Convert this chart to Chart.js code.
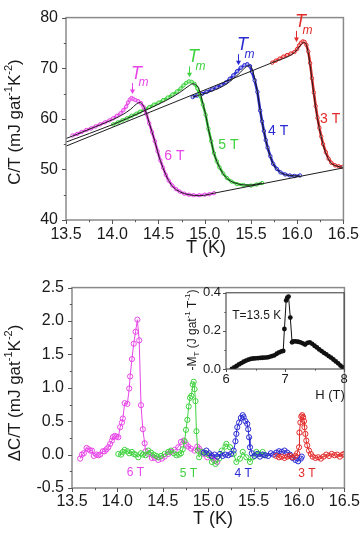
<!DOCTYPE html>
<html><head><meta charset="utf-8">
<script src="https://cdn.jsdelivr.net/npm/chart.js@4"></script>
<style>
html,body{margin:0;padding:0;background:#fff;}
#wrap{position:relative;width:364px;height:540px;overflow:hidden;background:#fff;}
canvas{position:absolute;}
</style></head><body>
<div id="wrap">
<canvas id="top" width="364" height="270" style="left:0;top:0"></canvas>
<canvas id="bot" width="364" height="270" style="left:0;top:270px"></canvas>
<canvas id="ins" width="175" height="125" style="left:180px;top:280px"></canvas>
</div>
<script>
// ---------- data: upper panel, C/T (mJ gat^-1 K^-2) vs T (K) ----------
const cT6 = [[13.57,56.7],[13.62,57.0],[13.67,57.4],[13.72,57.8],[13.77,58.1],[13.82,58.5],[13.87,58.9],[13.92,59.3],[13.97,59.7],[14.01,60.1],[14.05,60.6],[14.09,61.1],[14.12,61.7],[14.15,62.4],[14.17,63.2],[14.19,63.8],[14.21,64.1],[14.23,63.9],[14.25,63.7],[14.28,63.5],[14.31,63.1],[14.34,62.3],[14.37,60.9],[14.40,59.1],[14.43,57.4],[14.46,55.6],[14.49,53.6],[14.52,51.8],[14.55,50.3],[14.58,48.9],[14.61,47.8],[14.65,46.8],[14.69,46.1],[14.73,45.6],[14.78,45.2],[14.83,45.0],[14.88,44.9],[14.94,44.9],[15.00,45.0],[15.05,45.1],[15.10,45.3]];
const cT5 = [[14.01,58.9],[14.06,59.3],[14.11,59.7],[14.16,60.1],[14.21,60.6],[14.26,61.0],[14.30,61.4],[14.35,61.8],[14.40,62.3],[14.45,62.8],[14.50,63.2],[14.55,63.7],[14.60,64.2],[14.65,64.8],[14.70,65.4],[14.74,66.0],[14.77,66.6],[14.80,67.1],[14.83,67.4],[14.86,67.3],[14.89,66.9],[14.92,66.0],[14.95,64.6],[14.98,62.8],[15.01,60.8],[15.04,58.0],[15.07,55.6],[15.10,53.2],[15.13,51.6],[15.16,50.4],[15.20,49.2],[15.24,48.3],[15.29,47.6],[15.35,47.1],[15.42,46.9],[15.50,46.8],[15.56,47.0],[15.62,47.3]];
const cT4 = [[14.87,64.3],[14.92,64.6],[14.97,64.9],[15.02,65.3],[15.08,65.8],[15.13,66.2],[15.18,66.7],[15.23,67.2],[15.27,67.9],[15.31,68.6],[15.35,69.4],[15.39,70.1],[15.43,70.6],[15.46,70.8],[15.49,70.4],[15.51,69.3],[15.54,67.6],[15.57,65.3],[15.60,61.6],[15.62,59.5],[15.64,57.6],[15.66,55.8],[15.68,54.3],[15.71,52.6],[15.74,51.1],[15.78,50.1],[15.82,49.4],[15.87,49.0],[15.92,48.8],[15.97,48.7],[16.03,48.8]];
const cT3 = [[15.73,71.1],[15.77,71.5],[15.81,71.9],[15.85,72.3],[15.89,72.6],[15.93,72.9],[15.97,73.2],[16.00,73.8],[16.02,74.5],[16.04,75.0],[16.06,75.3],[16.08,75.2],[16.10,74.6],[16.12,73.3],[16.14,71.0],[16.16,68.0],[16.18,65.2],[16.20,62.5],[16.22,60.2],[16.24,58.2],[16.26,56.5],[16.28,55.0],[16.31,53.4],[16.34,52.1],[16.37,51.3],[16.41,50.8],[16.45,50.6],[16.49,50.5]];
// black model curves
const fit6 = [[13.5,56.1],[13.6,56.8],[13.8,58.3],[14.0,59.8],[14.1,60.7],[14.2,61.9],[14.26,62.9],[14.30,63.2],[14.33,62.8],[14.36,61.6],[14.40,59.2],[14.46,55.6],[14.51,52.3],[14.56,49.8],[14.61,47.8],[14.66,46.5],[14.73,45.6],[14.83,45.0],[14.95,44.8],[15.1,45.3]];
const fit5 = [[13.5,55.4],[14.01,58.9],[14.3,61.2],[14.58,63.6],[14.73,65.2],[14.82,66.4],[14.87,66.9],[14.90,66.8],[14.94,65.8],[14.98,63.0],[15.01,60.8],[15.04,58.0],[15.07,55.6],[15.10,53.2],[15.16,50.4],[15.23,48.4],[15.33,47.3],[15.48,46.9],[15.62,47.3]];
const fit4 = [[14.87,64.3],[15.08,65.5],[15.23,66.8],[15.37,68.9],[15.45,70.3],[15.49,70.5],[15.52,69.4],[15.57,65.3],[15.60,61.6],[15.64,57.6],[15.68,54.3],[15.74,51.1],[15.82,49.4],[15.92,48.8],[16.03,48.7]];
const fit3 = [[15.73,71.1],[15.97,73.1],[16.03,74.4],[16.07,75.1],[16.10,74.6],[16.13,71.8],[16.17,66.2],[16.21,61.0],[16.25,57.2],[16.30,53.7],[16.36,51.4],[16.44,50.6],[16.5,50.4]];
const lowLine = [[13.5,54.6],[15.73,71.1]];
const baseLine = [[15.1,45.3],[16.5,50.3]];

// ---------- data: lower panel, dC/T vs T ----------
const dT6 = [13.59,13.61,13.63,13.66,13.68,13.70,13.72,13.74,13.77,13.79,13.81,13.84,13.86,13.88,13.90,13.92,13.94,13.95,13.97,13.99,14.01,14.03,14.05,14.06,14.08,14.11,14.13,14.14,14.16,14.18,14.20,14.22,14.24,14.26,14.28,14.30,14.31,14.34,14.38,14.41,14.45,14.49,14.52,14.56,14.59,14.63,14.67,14.70,14.73,14.76,14.78,14.81,14.85,14.88,14.90,14.92,14.95,14.99,15.03,15.05,15.08,15.10];
const dV6 = [-0.06,0.00,0.02,0.10,0.08,0.06,0.06,-0.02,0.00,-0.01,0.00,0.05,0.05,0.08,0.11,0.16,0.21,0.26,0.28,0.27,0.26,0.41,0.48,0.54,0.77,0.76,0.99,1.17,1.43,1.66,1.84,2.02,1.71,0.74,0.38,0.17,0.05,0.01,-0.05,-0.05,-0.08,-0.06,-0.03,0.01,0.04,0.07,0.11,0.19,0.21,0.15,0.12,0.09,0.06,0.12,0.09,0.05,0.01,-0.04,-0.01,-0.05,-0.09,-0.11];
const dT5 = [14.01,14.04,14.06,14.08,14.11,14.13,14.16,14.18,14.20,14.23,14.26,14.28,14.31,14.34,14.37,14.40,14.43,14.45,14.48,14.52,14.56,14.59,14.62,14.65,14.68,14.70,14.72,14.74,14.755,14.77,14.785,14.80,14.815,14.83,14.84,14.85,14.86,14.87,14.885,14.90,14.935,14.97,15.01,15.04,15.08,15.12,15.15,15.19,15.20,15.24,15.28,15.31,15.35,15.38,15.42,15.46,15.49,15.53,15.56,15.60,15.62];
const dV5 = [0.01,0.00,0.04,0.07,0.05,0.02,0.04,0.01,0.00,-0.04,0.02,0.00,-0.01,0.06,0.03,0.00,-0.02,-0.04,-0.02,0.01,0.04,0.06,0.02,-0.01,0.00,0.02,0.08,0.20,0.37,0.52,0.72,0.85,0.88,1.05,1.09,0.98,0.80,0.35,0.06,-0.04,0.04,0.02,-0.01,-0.11,-0.14,-0.06,0.06,0.12,0.16,0.11,0.01,-0.11,-0.06,0.04,-0.04,-0.11,-0.04,0.04,0.01,0.04,-0.01];
const dT4 = [14.95,14.98,15.01,15.04,15.07,15.10,15.13,15.16,15.19,15.22,15.25,15.28,15.30,15.31,15.32,15.34,15.36,15.38,15.39,15.41,15.43,15.44,15.45,15.46,15.48,15.51,15.54,15.57,15.60,15.63,15.66,15.69,15.72,15.75,15.78,15.81,15.84,15.87,15.90,15.93,15.96,15.99,16.02,16.03];
const dV4 = [0.03,0.06,0.02,-0.02,0.00,-0.03,0.01,-0.02,0.00,-0.01,0.01,0.06,0.20,0.31,0.41,0.48,0.55,0.59,0.56,0.50,0.46,0.38,0.26,0.11,0.02,-0.02,0.01,-0.03,0.00,-0.01,-0.02,0.02,0.00,0.03,0.05,0.04,0.06,0.03,0.00,-0.05,-0.08,-0.10,-0.06,-0.03];
const dT3 = [15.75,15.78,15.81,15.84,15.87,15.90,15.93,15.96,15.98,16.00,16.005,16.015,16.025,16.035,16.045,16.055,16.06,16.07,16.08,16.09,16.11,16.13,16.15,16.18,16.21,16.24,16.27,16.30,16.33,16.36,16.39,16.42,16.45,16.48,16.50];
const dV3 = [-0.02,-0.04,-0.03,-0.05,-0.03,-0.02,-0.04,-0.02,0.02,0.11,0.33,0.48,0.57,0.59,0.56,0.50,0.41,0.31,0.21,0.14,0.06,0.01,-0.03,-0.05,-0.04,-0.06,-0.03,0.00,-0.02,0.01,-0.01,0.00,-0.03,0.00,0.01];

// ---------- data: inset, -M_T vs H ----------
const insH = [6.10,6.14,6.18,6.22,6.26,6.30,6.34,6.38,6.42,6.46,6.50,6.54,6.58,6.62,6.66,6.70,6.74,6.78,6.82,6.86,6.90,6.94,6.97,6.99,7.02,7.04,7.06,7.09,7.12,7.14,7.18,7.22,7.26,7.30,7.34,7.38,7.42,7.46,7.50,7.54,7.58,7.62,7.66,7.70,7.74,7.78,7.82,7.86,7.90,7.94,7.98];
const insM = [0.000,0.008,0.016,0.024,0.031,0.038,0.044,0.049,0.053,0.055,0.056,0.057,0.058,0.059,0.060,0.061,0.064,0.068,0.072,0.080,0.087,0.092,0.095,0.21,0.36,0.375,0.38,0.27,0.14,0.145,0.145,0.143,0.14,0.135,0.128,0.137,0.14,0.132,0.122,0.113,0.103,0.094,0.085,0.077,0.068,0.060,0.050,0.040,0.030,0.018,0.008];

// ---------- ticks ----------
const tTicks = [13.5,14.0,14.5,15.0,15.5,16.0,16.5];
const cTicks = [40,50,60,70,80];
const dTicks = [-0.5,0.0,0.5,1.0,1.5,2.0,2.5];
const hTicks = [6,7,8];
const mTicks = [0.0,0.2,0.4];
const fieldLabels = ['6 T','5 T','4 T','3 T'];

// ---------- styling ----------
const COL = {m:'#e845e8', g:'#3ed23e', b:'#2a2ad2', r:'#e42a2a'};
const FONT = "'Liberation Sans', Arial, Helvetica, sans-serif";
const xy = a => a.map(p => ({x:p[0], y:p[1]}));
const zip = (xs, ys) => xs.map((x,i) => ({x, y:ys[i]}));

function rich(ctx, parts, x, y, rot, align) {
  ctx.save(); ctx.translate(x, y); if (rot) ctx.rotate(rot);
  let w = 0;
  parts.forEach(p => { ctx.font = (p.i?'italic ':'') + p.s + 'px ' + FONT; p.w = ctx.measureText(p.t).width; w += p.w; });
  let cx = align === 'left' ? 0 : -w/2;
  ctx.textBaseline = 'middle'; ctx.textAlign = 'left';
  parts.forEach(p => { ctx.font = (p.i?'italic ':'') + p.s + 'px ' + FONT; ctx.fillStyle = p.c || '#1a1a1a'; ctx.fillText(p.t, cx, p.dy || 0); cx += p.w; });
  ctx.restore();
}

function decoPlugin(o) {
  return {
    id: 'deco',
    beforeDatasetsDraw(chart) {
      if (o.fill) { const a = chart.chartArea, c = chart.ctx; c.save(); c.fillStyle = '#fff'; c.fillRect(a.left, a.top, a.right-a.left, a.bottom-a.top); c.restore(); }
    },
    afterDatasetsDraw(chart) {
      const {ctx, chartArea:a, scales:{x, y}} = chart;
      ctx.save();
      ctx.strokeStyle = o.frame; ctx.lineWidth = o.fw;
      ctx.strokeRect(a.left, a.top, a.right-a.left, a.bottom-a.top);
      ctx.strokeStyle = '#555'; ctx.lineWidth = 1;
      ctx.beginPath();
      for (let v = x.min; v <= x.max + 1e-9; v += o.xMinor) {
        const p = Math.round(x.getPixelForValue(v)) + 0.5;
        const major = Math.abs(Math.round(v/o.xMajor)*o.xMajor - v) < 1e-6;
        ctx.moveTo(p, a.bottom); ctx.lineTo(p, a.bottom + (major ? o.tl : o.tl*0.55));
      }
      for (let v = y.min; v <= y.max + 1e-9; v += o.yMinor) {
        const p = Math.round(y.getPixelForValue(v)) + 0.5;
        const major = Math.abs(Math.round(v/o.yMajor)*o.yMajor - v) < 1e-6;
        ctx.moveTo(a.left, p); ctx.lineTo(a.left - (major ? o.tl : o.tl*0.55), p);
      }
      ctx.stroke();
      ctx.restore();
      if (o.extra) o.extra(chart);
    }
  };
}

function scaleOpts(min, max, vals, fmt, size, pad, fit) {
  return {
    type: 'linear', min, max,
    afterBuildTicks: s => { s.ticks = vals.map(v => ({value:v})); },
    afterFit: fit,
    grid: {display:false, drawTicks:false}, border: {display:false},
    ticks: {callback: fmt, font:{family:FONT, size}, color:'#1a1a1a', padding:pad, maxRotation:0, autoSkip:false}
  };
}

const dataSet = (d, c) => ({data:d, showLine:true, borderColor:c, borderWidth:2.6, pointRadius:1.7, pointBorderWidth:1, pointBorderColor:c, pointBackgroundColor:'rgba(255,255,255,0.6)', order:2});
const fitSet = d => ({data:d, showLine:true, borderColor:'#1e1e1e', borderWidth:1, pointRadius:0, cubicInterpolationMode:'monotone', order:1});

// annotation anchors (data coords)
const tmTips = [{x:14.217, y:64.9, c:COL.m},{x:14.826, y:68.2, c:COL.g},{x:15.355, y:70.6, c:COL.b},{x:15.99, y:75.2, c:COL.r}];
const topLab = [{x:14.672, y:52.6, c:COL.m},{x:15.256, y:54.8, c:COL.g},{x:15.794, y:57.5, c:COL.b},{x:16.357, y:60.0, c:COL.r}];
const botLab = [{x:14.198, y:-0.274, c:COL.m},{x:14.781, y:-0.283, c:COL.g},{x:15.385, y:-0.283, c:COL.b},{x:16.087, y:-0.293, c:COL.r}];

new Chart(document.getElementById('top'), {
  type: 'scatter',
  data: { datasets: [
    fitSet(xy(fit6)), fitSet(xy(fit5)), fitSet(xy(fit4)), fitSet(xy(fit3)), fitSet(xy(lowLine)), fitSet(xy(baseLine)),
    dataSet(xy(cT6), COL.m), dataSet(xy(cT5), COL.g), dataSet(xy(cT4), COL.b), dataSet(xy(cT3), COL.r)
  ]},
  options: {
    responsive:false, animation:false, devicePixelRatio:1,
    plugins:{legend:{display:false}, tooltip:{enabled:false}},
    layout:{padding:{top:14, right:19, left:0, bottom:0}},
    scales:{
      x: scaleOpts(13.5, 16.5, tTicks, v => v.toFixed(1), 16, 5, s => { s.height = 50; }),
      y: scaleOpts(40, 80, cTicks, v => String(v), 16, 8, s => { s.width = 66; })
    }
  },
  plugins:[decoPlugin({frame:'#8a8a8a', fw:1.5, xMajor:0.5, xMinor:0.25, yMajor:10, yMinor:5, tl:4, extra(chart){
    const {ctx, scales:{x,y}} = chart;
    tmTips.forEach(t => {
      const px = Math.round(x.getPixelForValue(t.x)) + 0.5, py = y.getPixelForValue(t.y);
      ctx.save(); ctx.strokeStyle = t.c; ctx.fillStyle = t.c; ctx.lineWidth = 1;
      ctx.beginPath(); ctx.moveTo(px, py - 11); ctx.lineTo(px, py - 3); ctx.stroke();
      ctx.beginPath(); ctx.moveTo(px - 2.5, py - 4.5); ctx.lineTo(px + 2.5, py - 4.5); ctx.lineTo(px, py); ctx.closePath(); ctx.fill();
      ctx.restore();
      rich(ctx, [{t:'T', s:18, i:true, c:t.c}], px + 4, py - 20);
      rich(ctx, [{t:'m', s:12, i:true, c:t.c}], px + 11, py - 11);
    });
    topLab.forEach((l, i) => rich(ctx, [{t:fieldLabels[i], s:14, c:l.c}], x.getPixelForValue(l.x), y.getPixelForValue(l.y)));
    rich(ctx, [{t:'C/T (mJ gat', s:17},{t:'-1', s:11, dy:-6},{t:'K', s:17},{t:'-2', s:11, dy:-6},{t:')', s:17}], 15, 122, -Math.PI/2);
    rich(ctx, [{t:'T (K)', s:18}], 206, 248);
  }})]
});

const bSet = (t, v, c) => ({data:zip(t, v), showLine:true, borderColor:c, borderWidth:1, pointRadius:2.6, pointBorderWidth:1, pointBorderColor:c, pointBackgroundColor:'rgba(255,255,255,0)'});

new Chart(document.getElementById('bot'), {
  type: 'scatter',
  data: { datasets: [ bSet(dT3, dV3, COL.r), bSet(dT4, dV4, COL.b), bSet(dT5, dV5, COL.g), bSet(dT6, dV6, COL.m) ]},
  options: {
    responsive:false, animation:false, devicePixelRatio:1,
    plugins:{legend:{display:false}, tooltip:{enabled:false}},
    layout:{padding:{top:15, right:15, left:0, bottom:0}},
    scales:{
      x: scaleOpts(13.5, 16.5, tTicks, v => v.toFixed(1), 16, 4, s => { s.height = 52; }),
      y: scaleOpts(-0.5, 2.5, dTicks, v => v.toFixed(1), 16, 8, s => { s.width = 72; })
    }
  },
  plugins:[decoPlugin({frame:'#8a8a8a', fw:1.5, xMajor:0.5, xMinor:0.25, yMajor:0.5, yMinor:0.25, tl:4, extra(chart){
    const {ctx, scales:{x,y}} = chart;
    botLab.forEach((l, i) => rich(ctx, [{t:fieldLabels[i], s:12, c:l.c}], x.getPixelForValue(l.x), y.getPixelForValue(l.y)));
    rich(ctx, [{t:'\u0394C/T (mJ gat', s:17},{t:'-1', s:11, dy:-6},{t:'K', s:17},{t:'-2', s:11, dy:-6},{t:')', s:17}], 15, 123, -Math.PI/2);
    rich(ctx, [{t:'T (K)', s:18}], 213, 249);
  }})]
});

new Chart(document.getElementById('ins'), {
  type: 'scatter',
  data: { datasets: [{data:zip(insH, insM), showLine:true, borderColor:'#111', borderWidth:1, pointRadius:2.4, pointBackgroundColor:'#111', pointBorderColor:'#111', pointBorderWidth:0}]},
  options: {
    responsive:false, animation:false, devicePixelRatio:1,
    plugins:{legend:{display:false}, tooltip:{enabled:false}},
    layout:{padding:{top:11, right:11, left:0, bottom:0}},
    scales:{
      x: scaleOpts(6, 8, hTicks, v => String(v), 13, 3, s => { s.height = 36; }),
      y: scaleOpts(0, 0.4, mTicks, v => v.toFixed(1), 13, 5, s => { s.width = 46; })
    }
  },
  plugins:[decoPlugin({fill:true, frame:'#333', fw:1, xMajor:1, xMinor:0.5, yMajor:0.2, yMinor:0.1, tl:3, extra(chart){
    const {ctx, scales:{x,y}} = chart;
    rich(ctx, [{t:'T=13.5 K', s:12}], x.getPixelForValue(6.52), y.getPixelForValue(0.28));
    rich(ctx, [{t:'H (T)', s:13}], 150, 115);
    rich(ctx, [{t:'-M', s:12},{t:'T', s:8, dy:4},{t:' (J gat', s:12},{t:'-1', s:8, dy:-5},{t:' T', s:12},{t:'-1', s:8, dy:-5},{t:')', s:12}], 13, 50, -Math.PI/2);
  }})]
});
</script>
</body></html>
